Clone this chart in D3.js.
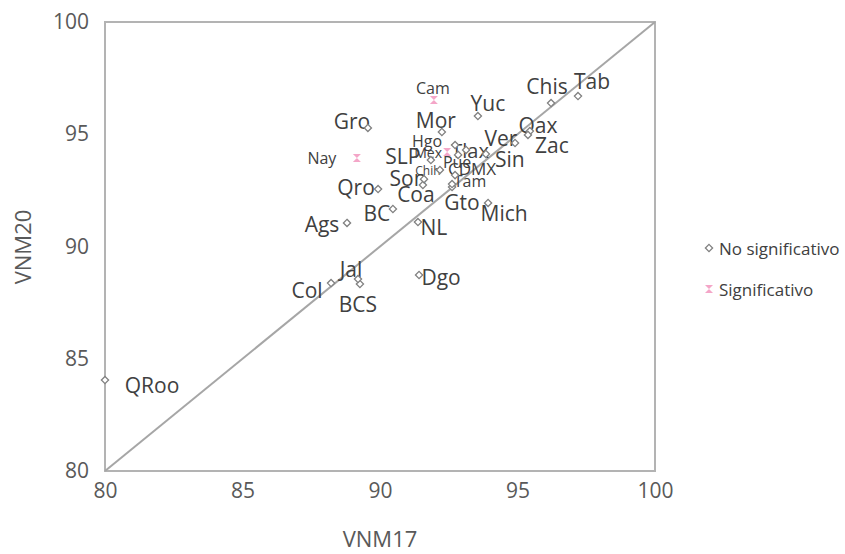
<!DOCTYPE html>
<html><head><meta charset="utf-8">
<script src="https://cdn.jsdelivr.net/npm/d3@7"></script>
<style>body{margin:0;background:#fff}svg{display:block}text{font-family:"Open Sans","Noto Sans",sans-serif}</style>
</head><body><div id="chart"></div>
<script>
// Data
const states = ["Ags","BC","BCS","Cam","Chih","Chis","Coa","Col","CDMX","Dgo","Gro","Gto","Hgo","Jal","Mex","Mich","Mor","NL","Nay","Oax","Pue","Qro","QRoo","Sin","SLP","Son","Tab","Tam","Tlax","Ver","Yuc","Zac"];
const vnm17 = [88.80,90.47,89.27,91.96,92.18,96.22,91.56,88.22,92.73,91.42,89.56,92.62,92.73,89.20,92.44,93.93,92.25,91.38,89.16,95.45,92.84,89.93,80.00,93.85,91.85,91.60,97.20,92.62,93.13,94.91,93.56,95.38];
const vnm20 = [91.05,91.67,88.33,96.53,93.41,96.39,92.74,88.37,93.18,88.73,95.28,92.65,94.52,88.55,94.21,91.94,95.10,91.09,93.94,95.14,94.08,92.56,84.05,94.12,93.85,93.00,96.70,92.78,94.30,94.61,95.81,94.97];
const significant = ["Cam","Mex","Nay"];
const xTicks = [80,85,90,95,100];
const yTicks = [80,85,90,95,100];
const seriesNames = ["No significativo","Significativo"];

// Layout (label placement, px relative to marker; label size class)
const labelLayout = {
  Ags:[-25,1,"L"],BC:[-16,4,"L"],BCS:[-2,20,"L"],Cam:[-1,-12,"S"],Chih:[-12,1,"T"],Chis:[-4,-17,"L"],
  Coa:[-7,9,"L"],Col:[-24,7,"L"],CDMX:[17,-7,"M"],Dgo:[22,2,"L"],Gro:[-16,-7,"L"],Gto:[10,15,"L"],
  Hgo:[-28,-4,"S"],Jal:[-7,-10,"L"],Mex:[-19,1,"X"],Mich:[16,10,"L"],Mor:[-6,-12,"L"],NL:[16,5,"L"],
  Nay:[-35,0,"S"],Oax:[8,-6,"L"],Pue:[-1,7,"S"],Qro:[-22,-2,"L"],QRoo:[47,5,"L"],Sin:[24,5,"L"],
  SLP:[-28,-4,"L"],Son:[-16,-1,"L"],Tab:[14,-15,"L"],Tam:[18,-3,"N"],Tlax:[4,1,"K"],Ver:[-14,-5,"L"],
  Yuc:[10,-13,"L"],Zac:[24,10,"L"]
};
const sizeMap = {L:21,K:20,M:17,N:16,S:16,X:14,T:12};

const W = 845, H = 554;
const svg = d3.select("#chart").append("svg").attr("width",W).attr("height",H);
const x = d3.scaleLinear().domain([80,100]).range([105,655]);
const y = d3.scaleLinear().domain([80,100]).range([471,22]);

// frame
svg.append("rect").attr("x",105).attr("y",22).attr("width",550).attr("height",449)
  .attr("fill","none").attr("stroke","#b3b3b3").attr("stroke-width",2);

// axes (labels only)
const xAxis = svg.append("g").attr("transform","translate(0,471)")
  .call(d3.axisBottom(x).tickValues(xTicks).tickSize(0).tickPadding(12));
const yAxis = svg.append("g").attr("transform","translate(105,0)")
  .call(d3.axisLeft(y).tickValues(yTicks).tickSize(0).tickPadding(16));
[xAxis,yAxis].forEach(g=>{
  g.select(".domain").remove();
  g.selectAll("text").attr("font-size",21).attr("fill","#595959").attr("font-family","'Open Sans',sans-serif");
});

// diagonal
svg.append("line").attr("x1",x(80)).attr("y1",y(80)).attr("x2",x(100)).attr("y2",y(100))
  .attr("stroke","#a6a6a6").attr("stroke-width",2);

const pts = states.map((s,i)=>({s, v17:vnm17[i], v20:vnm20[i], sig:significant.includes(s)}));

const diamond = "M0,-3.6L3.6,0L0,3.6L-3.6,0Z";
const hourglass = "M-4,-4L4,-4L-4,4L4,4Z";

// labels
svg.append("g").selectAll("text").data(pts).join("text")
  .attr("x",d=>x(d.v17)+labelLayout[d.s][0])
  .attr("y",d=>y(d.v20)+labelLayout[d.s][1])
  .attr("text-anchor","middle").attr("dominant-baseline","central")
  .attr("font-size",d=>sizeMap[labelLayout[d.s][2]])
  .attr("fill","#404040").text(d=>d.s);

// markers
svg.append("g").selectAll("path").data(pts).join("path")
  .attr("transform",d=>`translate(${x(d.v17)},${y(d.v20)})`)
  .attr("d",d=>d.sig?hourglass:diamond)
  .attr("fill",d=>d.sig?"#f4a6c8":"#fff")
  .attr("stroke",d=>d.sig?"none":"#808080").attr("stroke-width",1.3);

// axis titles
svg.append("text").attr("x",380).attr("y",538).attr("text-anchor","middle").attr("dominant-baseline","central")
  .attr("font-size",22).attr("fill","#595959").text("VNM17");
svg.append("text").attr("transform","translate(22,247) rotate(-90)").attr("text-anchor","middle").attr("dominant-baseline","central")
  .attr("font-size",22).attr("fill","#595959").text("VNM20");

// legend
const lg = svg.append("g");
seriesNames.forEach((n,i)=>{
  const yy = 248 + i*41;
  lg.append("path").attr("transform",`translate(709,${yy})`).attr("d",i===0?diamond:hourglass)
    .attr("fill",i===0?"#fff":"#f4a6c8").attr("stroke",i===0?"#808080":"none").attr("stroke-width",1.3);
  lg.append("text").attr("x",719).attr("y",yy).attr("dominant-baseline","central")
    .attr("font-size",17).attr("fill","#404040").text(n);
});
</script></body></html>
